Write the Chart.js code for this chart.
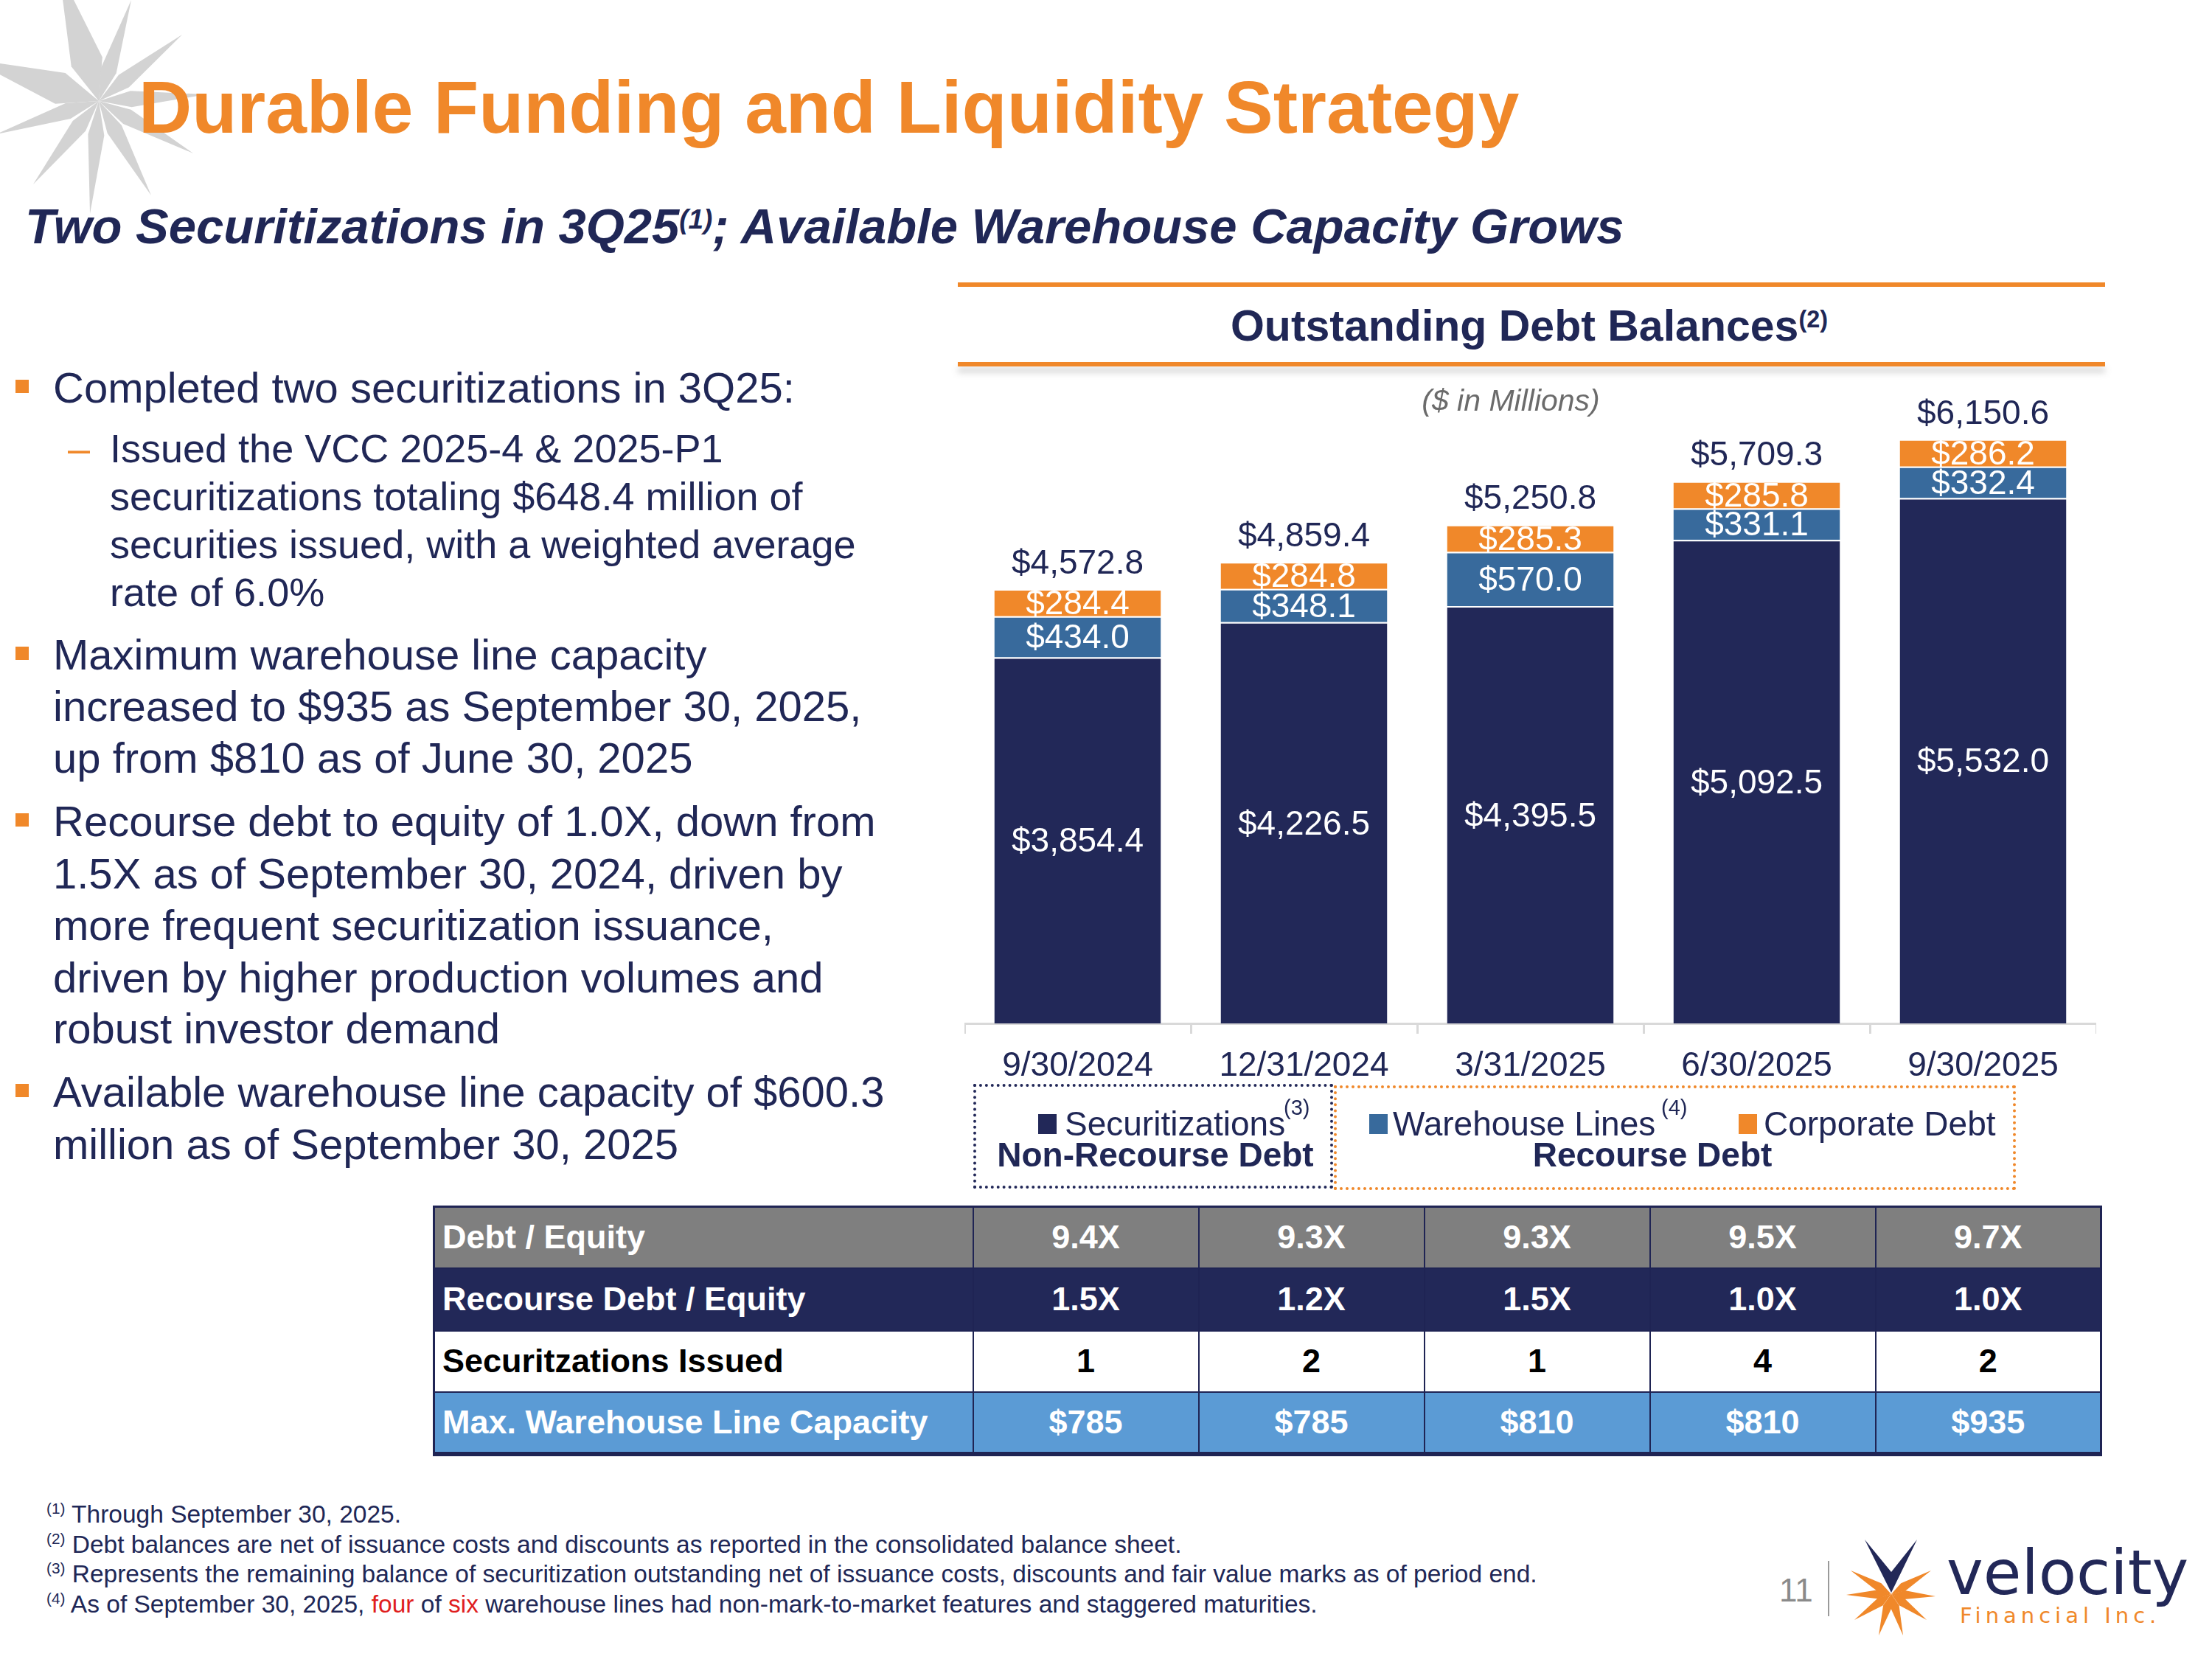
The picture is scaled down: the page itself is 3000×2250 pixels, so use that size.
<!DOCTYPE html>
<html>
<head>
<meta charset="utf-8">
<script src="https://cdn.jsdelivr.net/npm/chart.js@4.4.0/dist/chart.umd.min.js"></script>
<style>
  html, body { margin: 0; padding: 0; background: #fff; }
  #page { position: relative; width: 3000px; height: 2250px; overflow: hidden; background: #fff;
          font-family: "Liberation Sans", Arial, sans-serif; color: #202756; }
  .t { position: absolute; white-space: nowrap; }
  .sup { position: relative; top: -0.55em; font-size: 0.55em; }
  #chartBox { position: absolute; left: 1308px; top: 500px; width: 1535px; height: 990px; }
  .sq { position: absolute; box-sizing: border-box; }
  table.kpi { position: absolute; left: 587px; top: 1635px; border-collapse: collapse; table-layout: fixed;
              font-family: "Liberation Sans", Arial, sans-serif; font-weight: bold; font-size: 45px;
              border: 3px solid #1F2454; border-bottom-width: 6px; }
  table.kpi td { border: 2px solid #1F2454; padding: 0; text-align: center; overflow: hidden; white-space: nowrap; }
  table.kpi td:first-child { text-align: left; padding-left: 10px; }
</style>
</head>
<body>
<div id="page">
  <svg id="bgStar" width="330" height="310" style="position:absolute;left:0;top:0"></svg>
  <svg id="logoStar" width="140" height="150" style="position:absolute;left:2495px;top:2080px"></svg>
  <div id="chartBox"><canvas id="debtChart" width="1535" height="990"></canvas></div>
</div>
<script>
const categories = ['9/30/2024', '12/31/2024', '3/31/2025', '6/30/2025', '9/30/2025'];
const securitizations = [3854.4, 4226.5, 4395.5, 5092.5, 5532.0];
const warehouseLines = [434.0, 348.1, 570.0, 331.1, 332.4];
const corporateDebt = [284.4, 284.8, 285.3, 285.8, 286.2];
const totals = [4572.8, 4859.4, 5250.8, 5709.3, 6150.6];

const tableLabels = ['Debt / Equity', 'Recourse Debt / Equity', 'Securitzations Issued', 'Max. Warehouse Line Capacity'];
const debtToEquity = ['9.4X', '9.3X', '9.3X', '9.5X', '9.7X'];
const recourseDebtToEquity = ['1.5X', '1.2X', '1.5X', '1.0X', '1.0X'];
const securitizationsIssued = ['1', '2', '1', '4', '2'];
const maxWarehouseCapacity = ['$785', '$785', '$810', '$810', '$935'];

const NAVY = '#222858';
const BLUE = '#386A9C';
const ORANGE = '#F0882A';
const TEXT = '#202756';

const page = document.getElementById('page');

function put(html, x, base, size, style) {
  const d = document.createElement('div');
  d.className = 't';
  d.style.left = x + 'px';
  d.style.top = (base - 0.85 * size) + 'px';
  d.style.fontSize = size + 'px';
  d.style.lineHeight = size + 'px';
  Object.assign(d.style, style || {});
  d.innerHTML = html;
  page.appendChild(d);
  return d;
}
function box(x, y, w, h, style) {
  const d = document.createElement('div');
  d.className = 'sq';
  Object.assign(d.style, { left: x + 'px', top: y + 'px', width: w + 'px', height: h + 'px' }, style || {});
  page.appendChild(d);
  return d;
}

// titles
put('Durable Funding and Liquidity Strategy', 188, 180, 100, { color: ORANGE, fontWeight: 'bold' });
put('Two Securitizations in 3Q25<span class="sup">(1)</span>; Available Warehouse Capacity Grows',
    34, 330, 67, { color: TEXT, fontWeight: 'bold', fontStyle: 'italic' });

// left bullets
const bullets = [
  { lines: ['Completed two securitizations in 3Q25:'], base: [546] },
  { lines: ['Maximum warehouse line capacity', 'increased to $935 as September 30, 2025,', 'up from $810 as of June 30, 2025'], base: [908, 978, 1048] },
  { lines: ['Recourse debt to equity of 1.0X, down from', '1.5X as of September 30, 2024, driven by', 'more frequent securitization issuance,', 'driven by higher production volumes and', 'robust investor demand'], base: [1134, 1205, 1275, 1346, 1415] },
  { lines: ['Available warehouse line capacity of $600.3', 'million as of September 30, 2025'], base: [1501, 1572] }
];
bullets.forEach(b => {
  box(21, b.base[0] - 31, 18, 18, { background: ORANGE });
  b.lines.forEach((l, i) => put(l, 72, b.base[i], 58, { color: TEXT }));
});
const subLines = ['Issued the VCC 2025-4 &amp; 2025-P1', 'securitizations totaling $648.4 million of', 'securities issued, with a weighted average', 'rate of 6.0%'];
const subBase = [627, 692, 757, 822];
put('\u2013', 92, 627, 54, { color: ORANGE });
subLines.forEach((l, i) => put(l, 149, subBase[i], 54, { color: TEXT }));

// chart panel header
box(1299, 383, 1556, 6, { background: ORANGE });
box(1299, 491, 1556, 6, { background: ORANGE, boxShadow: '0 8px 8px rgba(120,120,120,0.35)' });
put('Outstanding Debt Balances<span class="sup">(2)</span>', 2074, 463, 59, { color: TEXT, fontWeight: 'bold', transform: 'translateX(-50%)' });
put('($ in Millions)', 2049, 558, 41, { color: '#6b6b6b', fontStyle: 'italic', transform: 'translateX(-50%)' });

// legend
box(1320, 1470, 488, 142, { border: '4px dotted ' + NAVY });
box(1809, 1472, 925, 142, { border: '4px dotted ' + ORANGE });
box(1408, 1511, 25, 27, { background: NAVY });
put('Securitizations', 1444, 1540, 46, { color: TEXT });
put('(3)', 1741, 1513, 29, { color: TEXT });
put('Non-Recourse Debt', 1567, 1582, 46, { color: TEXT, fontWeight: 'bold', transform: 'translateX(-50%)' });
box(1857, 1511, 25, 27, { background: BLUE });
put('Warehouse Lines', 1889, 1540, 46, { color: TEXT });
put('(4)', 2253, 1513, 29, { color: TEXT });
box(2358, 1511, 25, 27, { background: ORANGE });
put('Corporate Debt', 2392, 1540, 46, { color: TEXT });
put('Recourse Debt', 2241, 1582, 46, { color: TEXT, fontWeight: 'bold', transform: 'translateX(-50%)' });

// table
const rows = [
  { label: tableLabels[0], vals: debtToEquity, bg: '#7F7F7F', fg: '#fff', h: 83 },
  { label: tableLabels[1], vals: recourseDebtToEquity, bg: '#222858', fg: '#fff', h: 85 },
  { label: tableLabels[2], vals: securitizationsIssued, bg: '#fff', fg: '#000', h: 83 },
  { label: tableLabels[3], vals: maxWarehouseCapacity, bg: '#5B9BD5', fg: '#fff', h: 84 }
];
const colW = [731, 306, 306, 306, 306, 306];
const tbl = document.createElement('table');
tbl.className = 'kpi';
const cg = document.createElement('colgroup');
colW.forEach(w => { const c = document.createElement('col'); c.style.width = w + 'px'; cg.appendChild(c); });
tbl.appendChild(cg);
rows.forEach(r => {
  const tr = document.createElement('tr');
  tr.style.height = r.h + 'px';
  [r.label].concat(r.vals).forEach(v => {
    const td = document.createElement('td');
    td.textContent = v;
    td.style.background = r.bg;
    td.style.color = r.fg;
    tr.appendChild(td);
  });
  tbl.appendChild(tr);
});
tbl.style.width = colW.reduce((a, b) => a + b, 0) + 'px';
page.appendChild(tbl);

// footnotes
const notes = [
  ['(1)', 'Through September 30, 2025.'],
  ['(2)', 'Debt balances are net of issuance costs and discounts as reported in the consolidated balance sheet.'],
  ['(3)', 'Represents the remaining balance of securitization outstanding net of issuance costs, discounts and fair value marks as of period end.'],
  ['(4)', 'As of September 30, 2025, <span style="color:#E01E1E">four</span> of <span style="color:#E01E1E">six</span> warehouse lines had non-mark-to-market features and staggered maturities.']
];
const noteBase = [2065, 2106, 2146, 2187];
notes.forEach((n, i) => put('<span class="sup" style="font-size:0.62em">' + n[0] + '</span> ' + n[1], 63, noteBase[i], 33.5, { color: TEXT }));

// page number + logo
put('11', 2413, 2172, 44, { color: '#8a8a8a' });
box(2479, 2117, 2, 75, { background: '#9a9a9a' });
put('velocity', 2640, 2162, 84, { color: NAVY, fontFamily: '"DejaVu Sans", Verdana, sans-serif' });
put('Financial Inc.', 2658, 2202, 29, { color: ORANGE, fontFamily: '"DejaVu Sans", Verdana, sans-serif', letterSpacing: '6px' });

// star decorations
function spikes(svg, cx, cy, list, color) {
  const ns = 'http://www.w3.org/2000/svg';
  list.forEach(s => {
    const [tx, ty, w] = s;
    const dx = tx - cx, dy = ty - cy, len = Math.hypot(dx, dy);
    const ux = dx / len, uy = dy / len;
    const mx = cx + dx * 0.3, my = cy + dy * 0.3;
    const pts = [[cx, cy], [mx - uy * w / 2, my + ux * w / 2], [tx, ty], [mx + uy * w / 2, my - ux * w / 2]];
    const p = document.createElementNS(ns, 'polygon');
    p.setAttribute('points', pts.map(q => q.join(',')).join(' '));
    p.setAttribute('fill', color);
    svg.appendChild(p);
  });
}
spikes(document.getElementById('bgStar'), 134, 137, [
  [80, -40, 44], [-40, 80, 44], [178, 0, 22], [247, 47, 22], [280, 128, 22],
  [262, 208, 22], [205, 265, 22], [122, 290, 22], [45, 250, 22], [-5, 182, 22]
], '#D3D3D3');
spikes(document.getElementById('logoStar'), 70, 82, [
  [9, 83, 12], [15, 50, 12], [124, 50, 12], [130, 85, 12],
  [20, 117, 12], [118, 117, 12], [53, 138, 12], [86, 138, 12]
], ORANGE);
(function () {
  const p = document.createElementNS('http://www.w3.org/2000/svg', 'polygon');
  p.setAttribute('points', '34,8 70,52 105,8 70,80');
  p.setAttribute('fill', NAVY);
  document.getElementById('logoStar').appendChild(p);
})();

// chart
function fmt(v) {
  return '$' + v.toLocaleString('en-US', { minimumFractionDigits: 1, maximumFractionDigits: 1 });
}

const barLabels = {
  id: 'barLabels',
  afterDatasetsDraw(chart) {
    const ctx = chart.ctx;
    ctx.save();
    ctx.font = '46px "Liberation Sans", Arial, sans-serif';
    ctx.textAlign = 'center';
    ctx.textBaseline = 'middle';
    ctx.fillStyle = '#fff';
    chart.data.datasets.forEach((ds, i) => {
      chart.getDatasetMeta(i).data.forEach((bar, j) => {
        ctx.fillText(fmt(ds.data[j]), bar.x, (bar.y + bar.base) / 2 + 3);
      });
    });
    ctx.fillStyle = TEXT;
    chart.getDatasetMeta(2).data.forEach((bar, j) => {
      ctx.fillText(fmt(totals[j]), bar.x, bar.y - 34);
    });
    ctx.restore();
  }
};

const segBorder = { top: 2, right: 0, bottom: 0, left: 0 };

new Chart(document.getElementById('debtChart').getContext('2d'), {
  type: 'bar',
  data: {
    labels: categories,
    datasets: [
      { label: 'Securitizations', data: securitizations, backgroundColor: NAVY, borderColor: 'rgba(255,255,255,0.4)', borderWidth: segBorder, borderSkipped: false },
      { label: 'Warehouse Lines', data: warehouseLines, backgroundColor: BLUE, borderColor: 'rgba(255,255,255,0.4)', borderWidth: segBorder, borderSkipped: false },
      { label: 'Corporate Debt', data: corporateDebt, backgroundColor: ORANGE, borderColor: 'rgba(255,255,255,0.4)', borderWidth: segBorder, borderSkipped: false }
    ]
  },
  options: {
    responsive: false,
    animation: false,
    devicePixelRatio: 1,
    layout: { padding: { top: 60, left: 0, right: 0, bottom: 0 } },
    datasets: { bar: { barPercentage: 0.736, categoryPercentage: 1.0 } },
    plugins: { legend: { display: false }, tooltip: { enabled: false } },
    scales: {
      x: {
        stacked: true,
        offset: true,
        grid: { display: true, drawOnChartArea: false, offset: true, color: '#D9D9D9', lineWidth: 3, tickLength: 14 },
        border: { display: true, color: '#D9D9D9', width: 3 },
        ticks: { color: TEXT, padding: 17, font: { size: 46, family: '"Liberation Sans", Arial, sans-serif' } },
        afterFit: (scale) => { scale.height = 102; }
      },
      y: { stacked: true, display: false, min: 0, max: 6429 }
    }
  },
  plugins: [barLabels]
});
</script>
</body>
</html>
